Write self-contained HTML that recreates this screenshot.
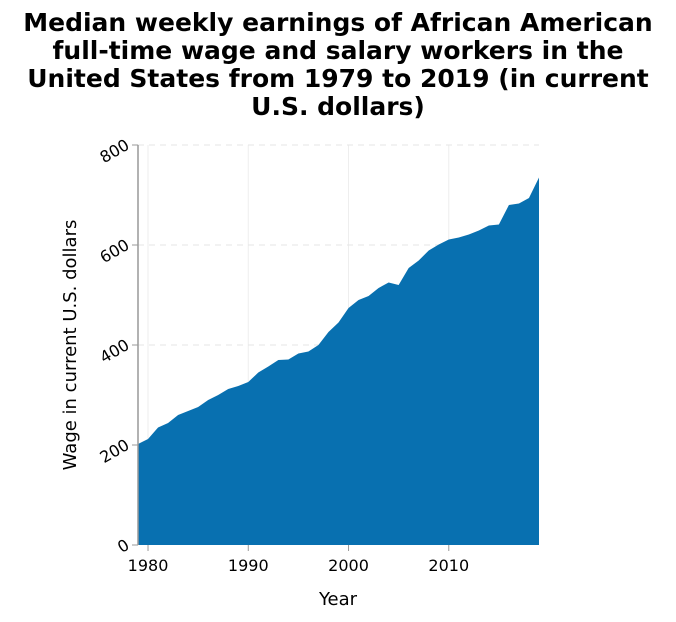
<!DOCTYPE html>
<html><head><meta charset="utf-8"><style>
body{margin:0;background:#fff;width:676px;height:618px;overflow:hidden;font-family:"DejaVu Sans","Liberation Sans",sans-serif}
svg text{font-family:"DejaVu Sans","Liberation Sans",sans-serif}
</style></head><body>
<svg id="chart" width="676" height="618" xmlns="http://www.w3.org/2000/svg">
<g font-weight="bold" font-size="25" text-anchor="middle" fill="#000">
<text x="338" y="31">Median weekly earnings of African American</text>
<text x="338" y="59">full-time wage and salary workers in the</text>
<text x="338" y="87">United States from 1979 to 2019 (in current</text>
<text x="338" y="115">U.S. dollars)</text>
</g>
<g id="grid"></g>
<path id="area" fill="#0870b0"></path>
<g id="axes"></g>
<text x="338" y="605" font-size="18" text-anchor="middle">Year</text>
<text transform="translate(76,345) rotate(-90)" font-size="18" text-anchor="middle">Wage in current U.S. dollars</text>
</svg>
<script>
const years=[1979,1980,1981,1982,1983,1984,1985,1986,1987,1988,1989,1990,1991,1992,1993,1994,1995,1996,1997,1998,1999,2000,2001,2002,2003,2004,2005,2006,2007,2008,2009,2010,2011,2012,2013,2014,2015,2016,2017,2018,2019];
const wages=[202,212,235,244,260,268,276,290,300,312,318,326,345,357,370,371,383,387,400,426,445,474,490,498,514,525,520,554,569,589,601,611,615,621,629,639,641,680,683,694,735];
const xTicks=[1980,1990,2000,2010];
const yTicks=[0,200,400,600,800];
const X0=138,X1=539,Y0=545,Y1=145;
const x=v=>X0+(v-1979)/(2019-1979)*(X1-X0);
const y=v=>Y0-v/800*(Y0-Y1);
const NS="http://www.w3.org/2000/svg";
function mk(t,a,p){const e=document.createElementNS(NS,t);for(const k in a)e.setAttribute(k,a[k]);p.appendChild(e);return e;}
const grid=document.getElementById('grid'),axes=document.getElementById('axes');
xTicks.forEach(t=>{const l=mk('line',{x1:x(t),x2:x(t),y1:Y1,y2:Y0,stroke:'#eee'},grid);


const tk=mk('line',{x1:x(t),x2:x(t),y1:Y0,y2:Y0+6,stroke:'#999'},axes);


const tx=mk('text',{x:x(t),y:Y0+26,'font-size':16,'text-anchor':'middle'},axes);tx.textContent=t;

});
yTicks.forEach(t=>{if(t>0){const l=mk('line',{x1:X0,x2:X1,y1:y(t),y2:y(t),stroke:'#e6e6e6','stroke-dasharray':'6,5'},grid);

}
const tk=mk('line',{x1:X0-6,x2:X0,y1:y(t),y2:y(t),stroke:'#999'},axes);


const tx=mk('text',{x:X0-10,y:y(t)+6,'font-size':16,'text-anchor':'end',transform:`rotate(-30 ${X0-14} ${y(t)})`},axes);tx.textContent=t;

});
const ax=mk('line',{x1:X0,x2:X0,y1:Y1,y2:Y0,stroke:'#999','stroke-width':1.5},axes);


let d=`M${x(years[0])},${y(0)}`;years.forEach((yr,i)=>d+=`L${x(yr)},${y(wages[i])}`);d+=`L${x(years[years.length-1])},${y(0)}Z`;
document.getElementById('area').setAttribute('d',d);
</script>
</body></html>
